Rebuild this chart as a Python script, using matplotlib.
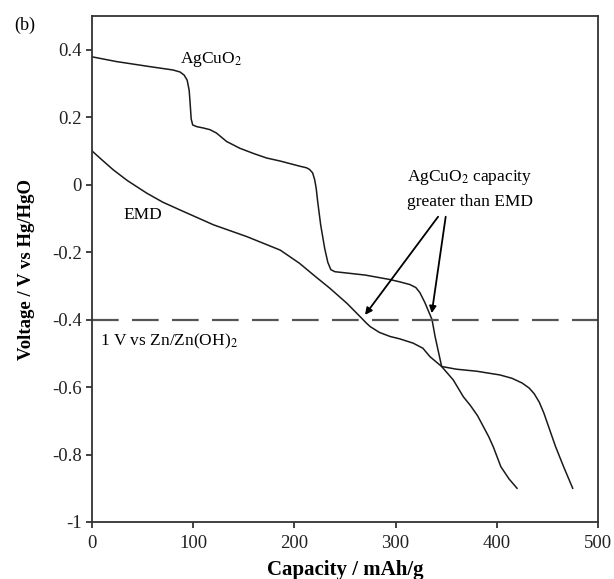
import matplotlib
matplotlib.use("Agg")
import matplotlib.pyplot as plt
from matplotlib.ticker import FuncFormatter

plt.rcParams['font.family'] = ['Liberation Serif', 'DejaVu Serif']
plt.rcParams['axes.unicode_minus'] = False
plt.rcParams['mathtext.fontset'] = 'stix'

# AgCuO2 discharge curve
agcuo2_cap = [0, 24, 57, 80, 87, 91, 94, 96, 97, 98, 99.5, 103.5, 110, 116.6, 123, 133, 146,
              160, 172.6, 186, 205, 212, 215, 218, 220, 221.5, 223, 226, 230, 233, 236, 240,
              270, 294, 304, 314, 320, 324, 329, 336, 339, 345.5, 360, 380, 403, 415, 425,
              432, 437, 442, 446.5, 458, 466, 475]
agcuo2_v = [0.379, 0.365, 0.35, 0.340, 0.334, 0.325, 0.31, 0.28, 0.24, 0.195, 0.177, 0.172,
            0.168, 0.163, 0.153, 0.128, 0.108, 0.092, 0.079, 0.07, 0.055, 0.05, 0.045, 0.035,
            0.015, -0.01, -0.05, -0.12, -0.19, -0.23, -0.252, -0.258, -0.268, -0.281, -0.288,
            -0.296, -0.305, -0.32, -0.35, -0.40, -0.45, -0.539, -0.547, -0.553, -0.564,
            -0.574, -0.588, -0.603, -0.62, -0.645, -0.677, -0.776, -0.836, -0.9]

# EMD discharge curve
emd_cap = [0, 10, 21, 35, 54, 70, 87, 120, 153, 186, 205, 219, 235, 252, 266.5, 271, 275,
           284, 294.5, 304, 317.5, 327, 334, 345.5, 357, 367, 374, 381, 392, 396.5, 404, 412,
           420]
emd_v = [0.10, 0.073, 0.044, 0.012, -0.025, -0.052, -0.075, -0.119, -0.154, -0.194, -0.233,
         -0.268, -0.307, -0.352, -0.396, -0.41, -0.421, -0.438, -0.45, -0.457, -0.47, -0.485,
         -0.51, -0.539, -0.579, -0.629, -0.655, -0.685, -0.747, -0.777, -0.836, -0.872, -0.9]

ref_voltage = -0.4
x_ticks = [0, 100, 200, 300, 400, 500]
y_ticks = [-1, -0.8, -0.6, -0.4, -0.2, 0, 0.2, 0.4]

fig = plt.figure(figsize=(6.14, 5.79), dpi=100)
ax = fig.add_axes([92 / 614, 1 - 522 / 579, (598 - 92) / 614, (522 - 16) / 579])

ax.plot(agcuo2_cap, agcuo2_v, color='#1a1a1a', lw=1.1)
ax.plot(emd_cap, emd_v, color='#1a1a1a', lw=1.1)
ax.plot([0, 500], [ref_voltage, ref_voltage], color='#555555', lw=1.6,
        dashes=(12, 6))

ax.set_xlim(0, 500)
ax.set_ylim(-1, 0.5)
ax.set_xticks(x_ticks)
ax.set_yticks(y_ticks)
fmt = FuncFormatter(lambda v, p: ('%g' % round(v, 2)))
ax.xaxis.set_major_formatter(fmt)
ax.yaxis.set_major_formatter(fmt)
ax.tick_params(direction='out', length=4, width=1.2, labelsize=13.5, colors='#222222')
ax.tick_params(axis='x', pad=5)
for s in ax.spines.values():
    s.set_linewidth(1.3)
    s.set_color('#333333')

ax.set_xlabel('Capacity / mAh/g', fontsize=15, fontweight='bold', labelpad=6)
ax.set_ylabel('Voltage / V vs Hg/HgO', fontsize=13.5, fontweight='bold', labelpad=12)

ax.text(87, 0.372, r'AgCuO$_2$', fontsize=12.5, ha='left', va='center')
ax.text(31, -0.09, 'EMD', fontsize=12.5, ha='left', va='center')
ax.text(8, -0.465, r'1 V vs Zn/Zn(OH)$_2$', fontsize=12.5, ha='left', va='center')
ax.text(373.5, 0.02, r'AgCuO$_2$ capacity', fontsize=12.5, ha='center', va='center')
ax.text(373.5, -0.05, 'greater than EMD', fontsize=12.5, ha='center', va='center')

ax.annotate('', xy=(269.8, -0.386), xytext=(342, -0.095),
            arrowprops=dict(arrowstyle='-|>', color='black', lw=1.3,
                            mutation_scale=10, shrinkA=0, shrinkB=0))
ax.annotate('', xy=(335.7, -0.381), xytext=(349.5, -0.095),
            arrowprops=dict(arrowstyle='-|>', color='black', lw=1.3,
                            mutation_scale=10, shrinkA=0, shrinkB=0))

fig.text(25 / 614, 1 - 25 / 579, '(b)', fontsize=13, ha='center', va='center')

fig.savefig('out.png', dpi=100)
